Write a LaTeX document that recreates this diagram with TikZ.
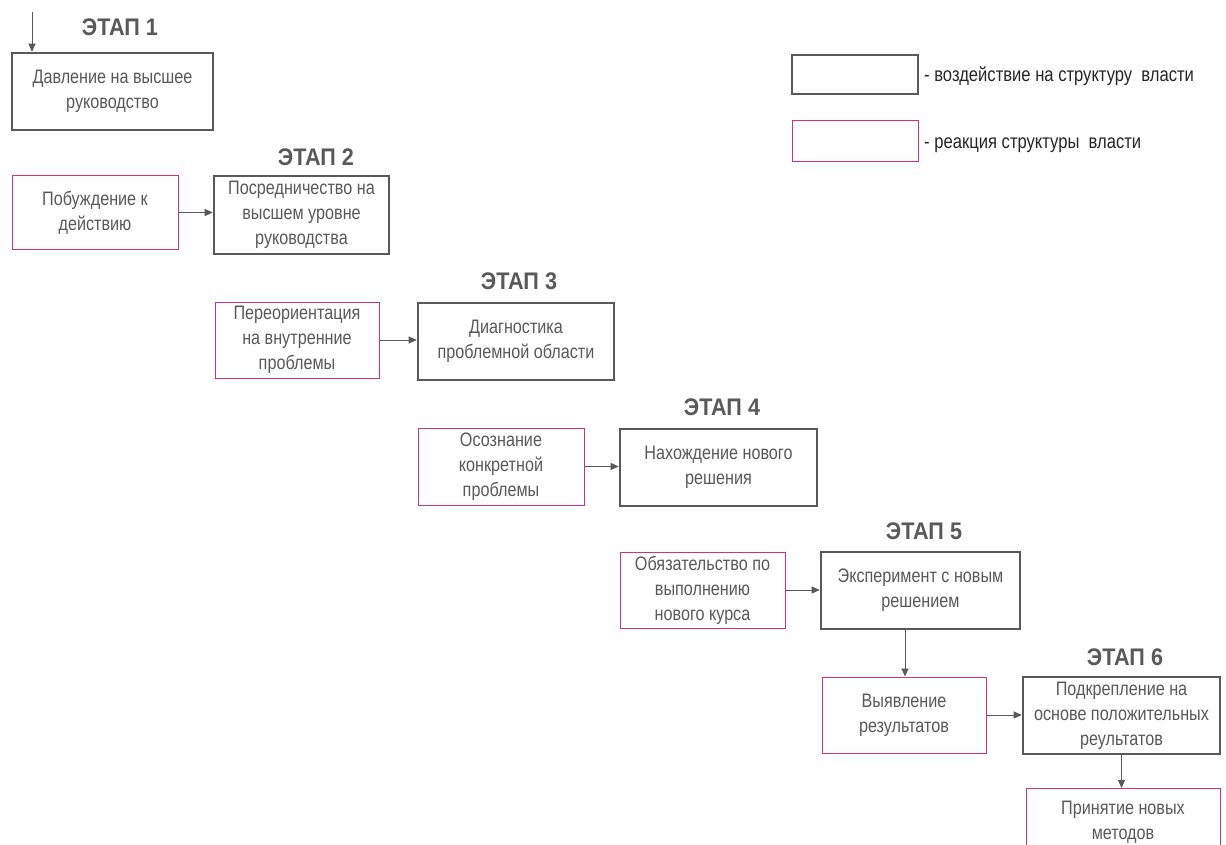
\documentclass[tikz,border=0pt]{standalone}
\usepackage{fontspec}
\setmainfont{Liberation Sans}[FakeStretch=0.83]
\newfontfamily\stagefont{Liberation Sans}[FakeStretch=0.9]
\usetikzlibrary{arrows.meta}
\definecolor{dg}{HTML}{595959}
\definecolor{pk}{HTML}{D0356B}
\begin{document}
\begin{tikzpicture}[x=1pt,y=-1pt,
  act/.style={draw=dg,line width=2.6pt,fill=white,text=dg,align=center,inner sep=0pt,font=\fontsize{19.5}{25}\selectfont},
  react/.style={draw=pk,line width=1pt,fill=white,text=dg,align=center,inner sep=0pt,font=\fontsize{19.5}{25}\selectfont},
  stage/.style={text=dg,font=\stagefont\bfseries\fontsize{24}{28}\selectfont},
  leg/.style={text=black!85,anchor=west,inner sep=0pt,font=\fontsize{20}{24}\selectfont},
  arr/.style={draw=dg,line width=0.9pt,-{Triangle[length=8pt,width=7pt]}}]
\clip (0,0) rectangle (1226,845);
\fill[white] (0,0) rectangle (1226,845);
\def\bx#1#2#3#4#5#6#7{\node[#1,minimum width=#4-#2,minimum height=#5-#3] (#6) at ({(#2+#4)/2},{(#3+#5)/2}) {#7};}
% stage 1
\coordinate (top) at (32,12);
\bx{act}{12}{53}{213}{130}{a1}{Давление на высшее\\руководство}
\node[stage] (s1) at (120,27) {ЭТАП 1};
\draw[arr] (top) -- (top |- a1.north);
% stage 2
\bx{react}{12}{176}{178}{249}{r2}{Побуждение к\\действию}
\bx{act}{214}{176}{389}{254}{a2}{Посредничество на\\высшем уровне\\руководства}
\node[stage] (s2) at (316,157) {ЭТАП 2};
\draw[arr] (r2.east) -- (r2.east -| a2.west);
% stage 3
\bx{react}{215}{302}{379}{378}{r3}{Переориентация\\на внутренние\\проблемы}
\bx{act}{418}{303}{614}{380}{a3}{Диагностика\\проблемной области}
\node[stage] (s3) at (519,281) {ЭТАП 3};
\draw[arr] (r3.east) -- (r3.east -| a3.west);
% stage 4
\bx{react}{418}{428}{584}{505}{r4}{Осознание\\конкретной\\проблемы}
\bx{act}{620}{429}{817}{506}{a4}{Нахождение нового\\решения}
\node[stage] (s4) at (722,407) {ЭТАП 4};
\draw[arr] (r4.east) -- (r4.east -| a4.west);
% stage 5
\bx{react}{620}{552}{785}{628}{r5}{Обязательство по\\выполнению\\нового курса}
\bx{act}{821}{552}{1020}{629}{a5}{Эксперимент с новым\\решением}
\node[stage] (s5) at (924,531) {ЭТАП 5};
\draw[arr] (r5.east) -- (r5.east -| a5.west);
% stage 6
\bx{react}{822}{677}{986}{753}{r6}{Выявление\\результатов}
\bx{act}{1023}{677}{1220}{754}{a6}{Подкрепление на\\основе положительных\\реультатов}
\node[stage] (s6) at (1125,657) {ЭТАП 6};
\draw[arr] (r6.east) -- (r6.east -| a6.west);
\draw[arr] (a5.south -| 905,0) -- (r6.north -| 905,0);
% final
\node[react,minimum width=194,minimum height=80,anchor=north west] (r7) at (1026,788) {};
\node[text=dg,align=center,inner sep=0pt,font=\fontsize{19.5}{25}\selectfont] (t7) at (1123,822) {Принятие новых\\методов};
\draw[arr] (a6.south) -- (a6.south |- r7.north);
% legend
\bx{act}{792}{55}{918}{94}{la}{}
\bx{react}{792}{121}{918}{162}{lr}{}
\node[leg] (lat) at (924,76) {- воздействие на структуру\ \ власти};
\node[leg] (lrt) at (924,145) {- реакция структуры\ \ власти};
\end{tikzpicture}
\end{document}
